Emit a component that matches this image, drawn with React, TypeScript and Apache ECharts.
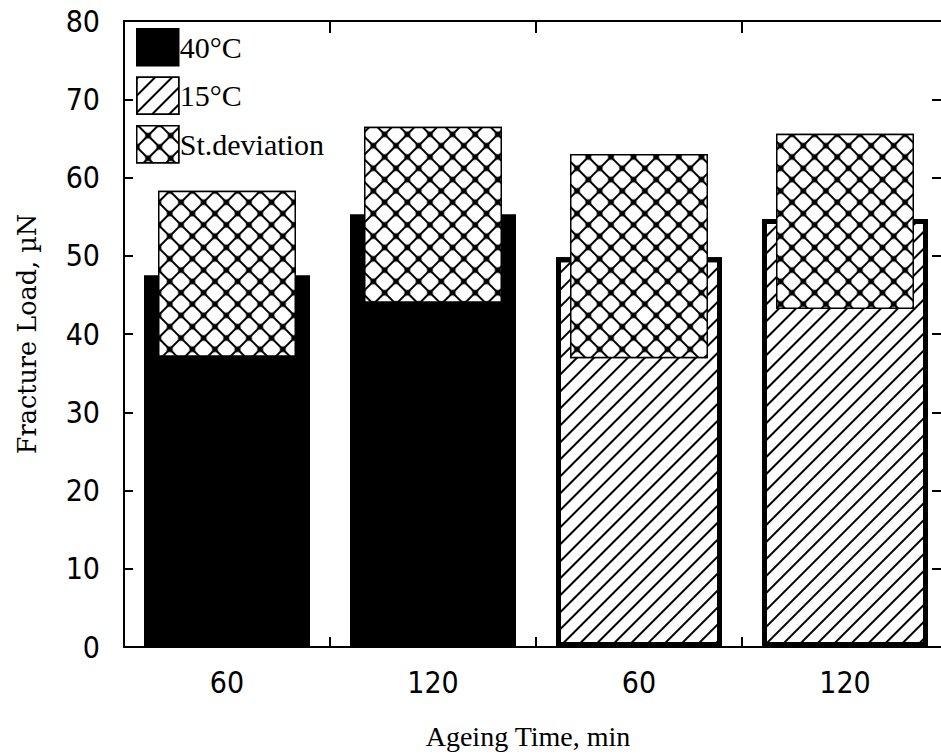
import React, { useEffect, useRef } from 'react';
import * as echarts from 'echarts';

const categories = ['60', '120', '60', '120'];
const warmValues: (number | string)[] = [47.5, 55.3, '-', '-'];
const coolValues: (number | string)[] = ['-', '-', 49.8, 54.7];
const devLow = [37.1, 44.0, 36.9, 43.2];
const devHigh = [58.3, 66.5, 63.0, 65.6];
const yMin = 0;
const yMax = 80;
const yInterval = 10;

const seriesNames = ['40°C', '15°C', 'St.deviation'];

const numFont = "'Liberation Sans Narrow', 'DejaVu Sans Condensed', 'Liberation Sans', sans-serif";
const serifFont = "'Liberation Serif', 'DejaVu Serif', serif";

export default function App() {
  const ref = useRef<HTMLDivElement>(null);
  useEffect(() => {
    if (!ref.current) return;
    const chart = echarts.init(ref.current, undefined, { renderer: 'svg' });
    const hatch = {
      symbol: 'rect',
      symbolSize: 1,
      color: '#000',
      dashArrayX: [1, 0],
      dashArrayY: [1.6, 9.4],
      rotation: -Math.PI / 4,
    };
    const cross = {
      symbol: 'roundRect',
      symbolSize: 1,
      color: '#fff',
      dashArrayX: [14, 1.4],
      dashArrayY: [14, 1.4],
      rotation: Math.PI / 4,
    };
    const axisLine = { show: true, onZero: false, lineStyle: { color: '#000', width: 2 } };
    const option: any = {
      animation: false,
      backgroundColor: '#fff',
      grid: { left: 124, right: 12, top: 21, bottom: 107 },
      legend: {
        data: seriesNames,
        orient: 'vertical',
        left: 131,
        top: 23,
        itemWidth: 42,
        itemHeight: 37,
        itemGap: 10,
        icon: 'rect',
        itemStyle: { borderColor: '#000', borderWidth: 1.5 },
        textStyle: { fontFamily: serifFont, fontSize: 30, color: '#000', padding: [0, 0, 0, -4] },
      },
      xAxis: [
        {
          type: 'category',
          data: categories,
          position: 'bottom',
          axisLine,
          axisTick: { show: true, inside: true, length: 10, lineStyle: { color: '#000', width: 2 } },
          axisLabel: { fontFamily: numFont, fontSize: 30, color: '#000', margin: 20 },
          name: 'Ageing Time, min',
          nameLocation: 'middle',
          nameGap: 75,
          nameTextStyle: { fontFamily: serifFont, fontSize: 28, color: '#000', padding: [0, 16, 0, 0] },
          splitLine: { show: false },
        },
        {
          type: 'category',
          data: categories,
          position: 'top',
          axisLine,
          axisTick: { show: true, inside: true, length: 12, lineStyle: { color: '#000', width: 2 } },
          axisLabel: { show: false },
          splitLine: { show: false },
        },
      ],
      yAxis: [
        {
          type: 'value',
          min: yMin,
          max: yMax,
          interval: yInterval,
          position: 'left',
          axisLine,
          axisTick: { show: true, inside: true, length: 9, lineStyle: { color: '#000', width: 2 } },
          axisLabel: { fontFamily: numFont, fontSize: 30, color: '#000', margin: 24 },
          splitLine: { show: false },
          name: 'Fracture Load, µN',
          nameLocation: 'middle',
          nameGap: 84,
          nameTextStyle: { fontFamily: "'DejaVu Serif', 'Liberation Serif', serif", fontSize: 25.5, color: '#000' },
        },
        {
          type: 'value',
          min: yMin,
          max: yMax,
          interval: yInterval,
          position: 'right',
          axisLine,
          axisTick: { show: true, inside: true, length: 16, lineStyle: { color: '#000', width: 2 } },
          axisLabel: { show: false },
          splitLine: { show: false },
        },
      ],
      series: [
        {
          name: seriesNames[0],
          type: 'bar',
          xAxisIndex: 0,
          yAxisIndex: 0,
          data: warmValues,
          barWidth: 166,
          barGap: '-100%',
          itemStyle: { color: '#000', borderColor: '#000', borderWidth: 0 },
        },
        {
          name: seriesNames[1],
          type: 'bar',
          xAxisIndex: 0,
          yAxisIndex: 0,
          data: coolValues,
          barWidth: 166,
          barGap: '-100%',
          itemStyle: { color: '#fff', borderColor: '#000', borderWidth: 5, decal: hatch },
        },
        {
          name: 'devBase',
          type: 'bar',
          xAxisIndex: 1,
          yAxisIndex: 0,
          stack: 'dev',
          data: devLow,
          barWidth: 138,
          itemStyle: { color: 'rgba(0,0,0,0)' },
          silent: true,
        },
        {
          name: seriesNames[2],
          type: 'bar',
          xAxisIndex: 1,
          yAxisIndex: 0,
          stack: 'dev',
          data: devHigh.map((h, i) => +(h - devLow[i]).toFixed(1)),
          barWidth: 138,
          itemStyle: { color: '#000', borderColor: '#000', borderWidth: 1.5, decal: cross },
        },
      ],
    };
    chart.setOption(option);
    return () => chart.dispose();
  }, []);
  return (
    <div style={{ position: 'absolute', left: 0, top: 0, width: 941, height: 755, overflow: 'hidden', background: '#fff' }}>
      <div ref={ref} style={{ position: 'absolute', left: 0, top: 0, width: 960, height: 755 }} />
    </div>
  );
}
